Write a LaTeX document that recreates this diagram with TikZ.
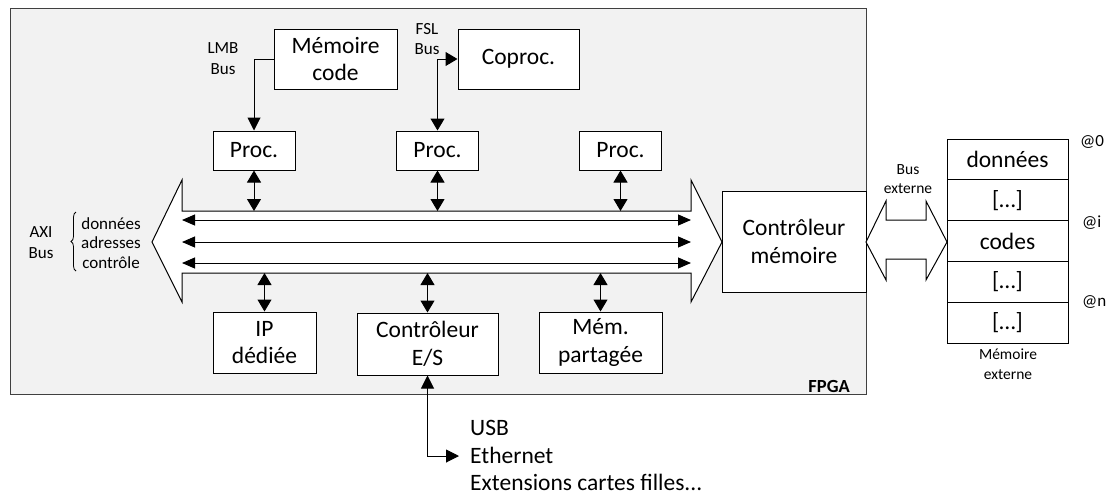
\documentclass[tikz,border=0pt]{standalone}
\usepackage{fontspec}
\setmainfont{Carlito}
\usetikzlibrary{arrows.meta,decorations.pathreplacing}
\begin{document}
\begin{tikzpicture}[x=1pt,y=-1pt,
  big/.style={font=\fontsize{23.5}{27.5}\selectfont},
  small/.style={font=\fontsize{17}{20.5}\selectfont},
  tiny/.style={font=\fontsize{15.5}{19.5}\selectfont},
  box/.style={draw=black, fill=white, line width=1pt, inner sep=0pt, align=center, big},
  cell/.style={box, minimum width=121pt, minimum height=40.8pt},
  procbox/.style={box, minimum width=82pt, minimum height=39pt},
  botbox/.style={box, minimum height=61pt},
  lbl/.style={inner sep=0pt, align=center},
  con/.style={line width=1pt, -{Triangle[length=13pt,width=13pt]}},
  dcon/.style={line width=1pt, {Triangle[length=12pt,width=14pt]}-{Triangle[length=12pt,width=14pt]}},
  buscon/.style={line width=1pt, {Triangle[length=13pt,width=11pt]}-{Triangle[length=13pt,width=11pt]}},
  outline/.style={draw=black, fill=white, line width=1pt, line join=miter}
]
\useasboundingbox (0,0) rectangle (1110,496);
% FPGA
\draw[draw=black!75, fill=black!5, line width=1pt] (10,8) rectangle (866,394);
\node[lbl, anchor=east, font=\fontsize{18.5}{22}\selectfont\bfseries] (fpga) at (850,386) {FPGA};

% top boxes
\node[box, minimum width=123pt, minimum height=60pt] (mc) at (335.5,59) {Mémoire\\code};
\node[box, minimum width=121pt, minimum height=60pt] (cp) at (518.5,59) {Coproc.};
\node[procbox] (p1) at (254,150.5) {Proc.};
\node[procbox] (p2) at (437.5,150.5) {Proc.};
\node[procbox] (p3) at (620.5,150.5) {Proc.};
\node[lbl, small] (lmb) at (223,58.5) {LMB\\Bus};
\node[lbl, small] (fsl) at (427,39) {FSL\\Bus};

\draw[con] (mc.west) -| (p1.north);
\draw[dcon] (p2.north) |- (cp.west);

% AXI bus outline
\draw[outline] (152,242) -- (182,180) -- (182,211) -- (691,211) -- (691,180) -- (722,242)
  -- (691,302) -- (691,273) -- (182,273) -- (182,302) -- cycle;
\coordinate (busT) at (0,211);
\coordinate (busB) at (0,273);
\coordinate (l1) at (182,220); \coordinate (r1) at (691,220);
\coordinate (l2) at (182,242); \coordinate (r2) at (691,242);
\coordinate (l3) at (182,263); \coordinate (r3) at (691,263);
\draw[buscon] (l1) -- (r1);
\draw[buscon] (l2) -- (r2);
\draw[buscon] (l3) -- (r3);

\draw[dcon] (p1.south) -- (p1.south |- busT);
\draw[dcon] (p2.south) -- (p2.south |- busT);
\draw[dcon] (p3.south) -- (p3.south |- busT);

% AXI labels
\node[lbl, small] (axi) at (41,242.5) {AXI\\Bus};
\draw[line width=0.8pt, decorate, decoration={brace, amplitude=5pt}] (76,271) -- (76,212);
\node[lbl, font=\fontsize{17}{19.5}\selectfont] (sig) at (111,243) {données\\adresses\\contrôle};

% bottom boxes
\node[botbox, minimum width=103pt] (ip) at (264.5,342.5) {IP\\dédiée};
\node[botbox, minimum width=141pt, minimum height=62pt] (io) at (427.5,344) {Contrôleur\\E/S};
\node[botbox, minimum width=123pt] (mp) at (600.5,342.5) {Mém.\\partagée};

\draw[dcon] (ip.north |- busB) -- (ip.north);
\draw[dcon] (io.north |- busB) -- (io.north);
\draw[dcon] (mp.north |- busB) -- (mp.north);

% memory controller
\node[box, minimum width=144pt, minimum height=101pt] (mctl) at (794,241.5) {Contrôleur\\mémoire};

% external bus
\draw[outline] (866,242) -- (886,201) -- (886,220) -- (926,220) -- (926,201) -- (947,242)
  -- (926,280) -- (926,259) -- (886,259) -- (886,280) -- cycle;
\node[lbl, tiny] (bext) at (908,179) {Bus\\externe};

% external memory
\node[cell] (c1) at (1007.5,159.4) {données};
\node[cell] (c2) at (1007.5,200.2) {[…]};
\node[cell] (c3) at (1007.5,241) {codes};
\node[cell] (c4) at (1007.5,281.8) {[…]};
\node[cell] (c5) at (1007.5,322.6) {[…]};
\node[lbl, tiny] (mext) at (1008,364) {Mémoire\\externe};
\node[lbl, small, anchor=west] (a0) at (1080,142) {@0};
\node[lbl, small, anchor=west] (ai) at (1082,223) {@i};
\node[lbl, small, anchor=west] (an) at (1082,302) {@n};

% I/O
\node[lbl, big, anchor=west, align=left] (ext) at (470,455.5) {USB\\Ethernet\\Extensions cartes filles...};
\coordinate (eth) at (459,456);
\draw[line width=1pt, {Triangle[length=13pt,width=13pt]}-{Triangle[length=13pt,width=13pt]}] (io.south) |- (eth);
\end{tikzpicture}
\end{document}
